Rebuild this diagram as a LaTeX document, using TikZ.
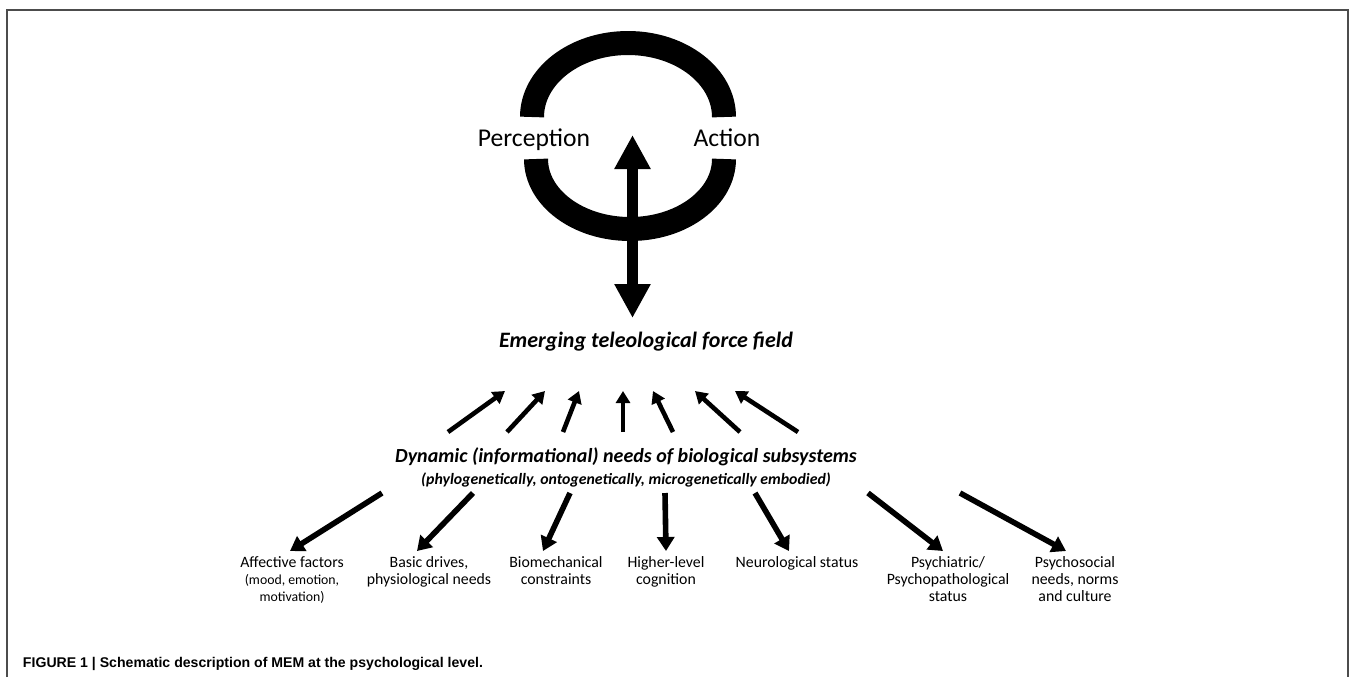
\documentclass[tikz,border=0pt]{standalone}
\usepackage{fontspec}
\setmainfont{Carlito}
\newfontfamily\capfont{Liberation Sans}
\usetikzlibrary{arrows.meta}

\begin{document}
\begin{tikzpicture}[inner sep=0pt,outer sep=0pt,x=0.5pt,y=-0.5pt,
    every node/.style={align=center},
    loopband/.style={line width=12pt},
    bigarrow/.style={line width=5.5pt,{Triangle[width=17pt,length=17pt]}-{Triangle[width=17pt,length=17pt]}},
    uparrow/.style={line width=2.3pt,-{Triangle[width=7pt,length=6pt]}},
    downarrow/.style={line width=2.8pt,-{Triangle[width=8.5pt,length=7pt]}},
    factor/.style={anchor=north,font=\fontsize{7.9}{8.5}\selectfont}]
    \useasboundingbox (0,0) rectangle (1350,677);

    % frame
    \draw[line width=1pt,black!70] (6.5,677) -- (6.5,9.5) -- (1347.5,9.5) -- (1347.5,677);

    % perception-action loop
    \draw[loopband] (532,117) arc[start angle=180,end angle=360,x radius=96,y radius=74];
    \draw[loopband] (536,159) arc[start angle=180,end angle=0,x radius=94,y radius=70];
    \node[anchor=base] (percep) at (534,146) {\fontsize{12.8}{14}\selectfont Perception};
    \node[anchor=base] (action) at (727,146) {\fontsize{12.8}{14}\selectfont Action};

    \coordinate (looptop) at (632.5,135);
    \coordinate (loopbot) at (632.5,318);
    \draw[bigarrow] (looptop) -- (loopbot);

    % force field
    \node (field) at (646,342) {\fontsize{11}{13}\selectfont\bfseries\itshape Emerging teleological force field};

    % subsystems
    \node (needs) at (626,457) {\fontsize{10}{12}\selectfont\bfseries\itshape Dynamic (informational) needs of biological subsystems};
    \node (needsub) at (626,480) {\fontsize{7.9}{9}\selectfont\bfseries\itshape (phylogenetically, ontogenetically, microgenetically embodied)};

    \foreach \i/\xa/\xb in {1/448/505, 2/507/545, 3/563/579, 4/623/623, 5/673/653, 6/740/695, 7/798/735}
    {
        \coordinate (up\i a) at (\xa,432);
        \coordinate (up\i b) at (\xb,391);
        \draw[uparrow] (up\i a) -- (up\i b);
    }

    % factors
    \node[factor] (affect) at (292,557) {Affective factors\\{\fontsize{6.9}{8.5}\selectfont (mood, emotion,}\\{\fontsize{6.9}{8.5}\selectfont motivation)}};
    \node[factor] (drives) at (429,557) {Basic drives,\\physiological needs};
    \node[factor] (biomech) at (556,557) {Biomechanical\\constraints};
    \node[factor] (cogn) at (666,557) {Higher-level\\cognition};
    \node[factor] (neuro) at (797,557) {Neurological status};
    \node[factor] (psych) at (948,557) {Psychiatric/\\Psychopathological\\status};
    \node[factor] (social) at (1075,557) {Psychosocial\\needs, norms\\and culture};

    \foreach \i/\xa/\xb in {1/382/290, 2/473/417, 3/570/543, 4/665/666, 5/755/789, 6/868/943, 7/960/1066}
    {
        \coordinate (dn\i a) at (\xa,493);
        \coordinate (dn\i b) at (\xb,551);
        \draw[downarrow] (dn\i a) -- (dn\i b);
    }

    % caption
    \node[anchor=base west] (caption) at (23,667)
    {\capfont\fontsize{7.05}{9}\selectfont\bfseries FIGURE 1 | Schematic description of MEM at the psychological level.};

\end{tikzpicture}
\end{document}
